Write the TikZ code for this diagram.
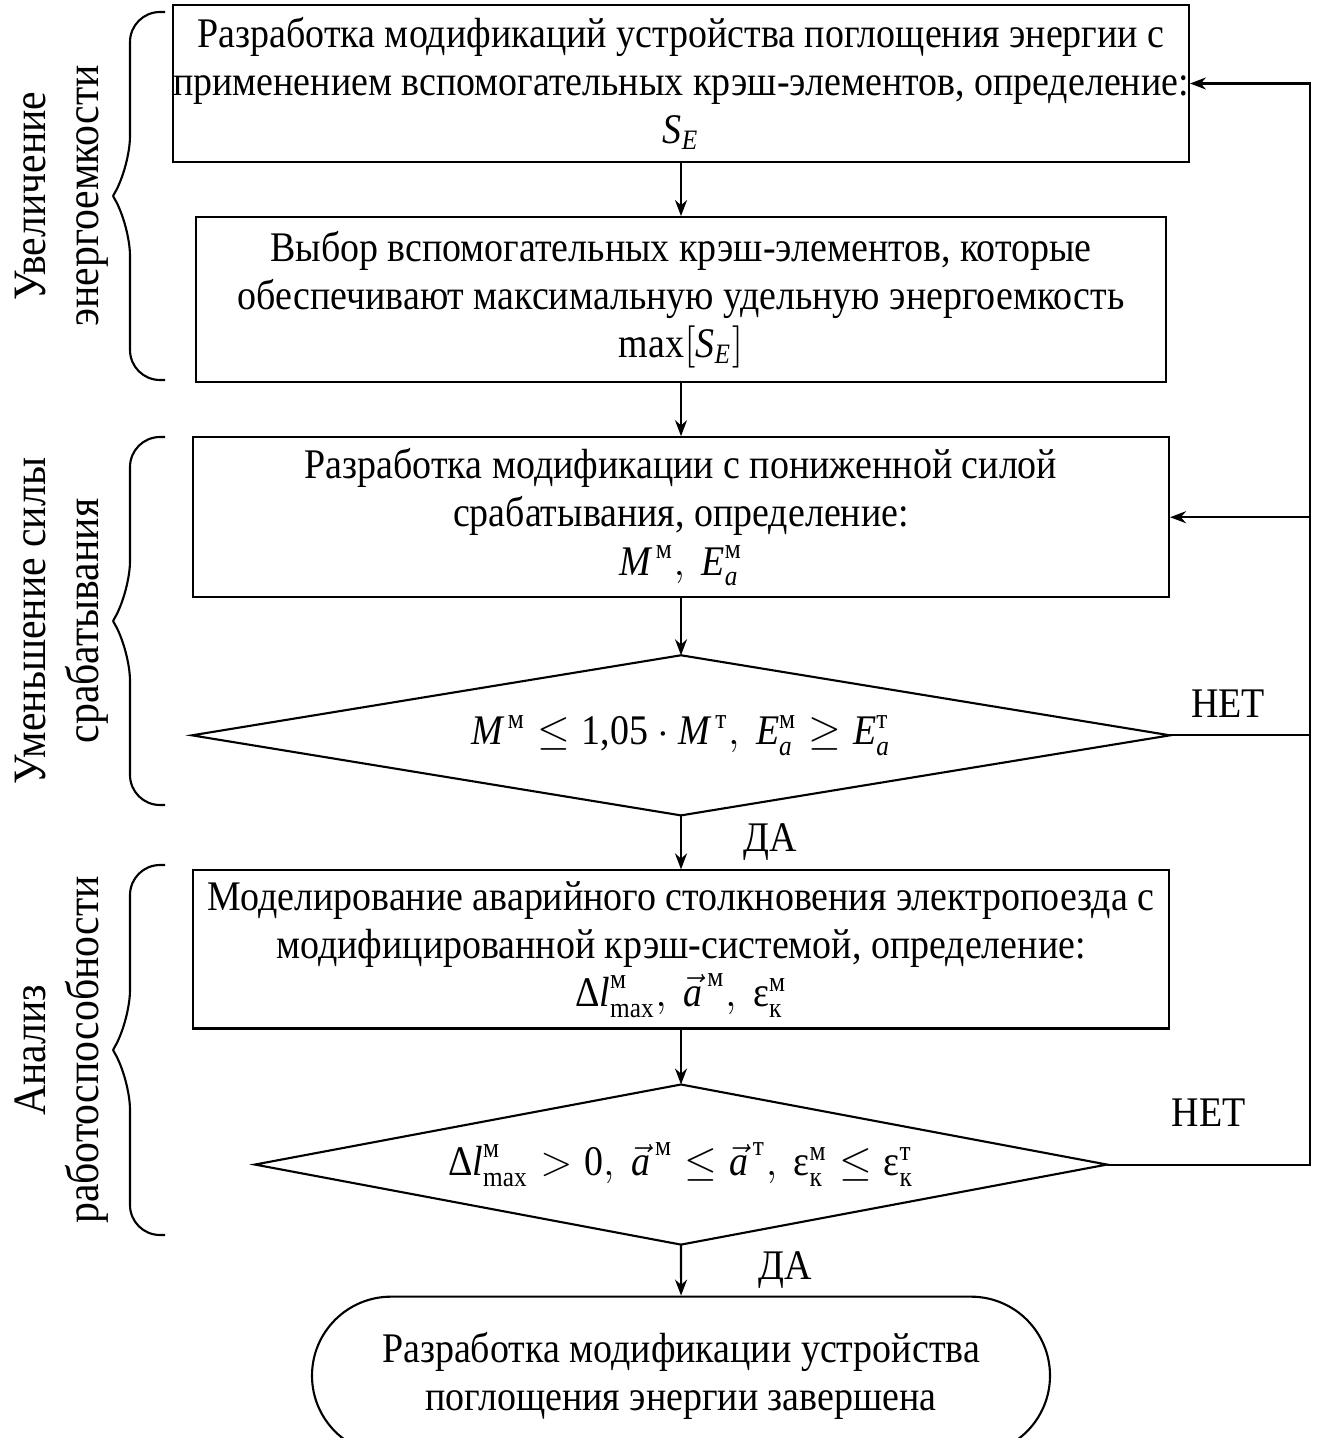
\documentclass[tikz,border=0pt]{standalone}
\usepackage{amsmath}
\usepackage{fontspec}
\setmainfont{Liberation Serif}[FakeStretch=0.9]
\usetikzlibrary{shapes.misc,arrows.meta,positioning}
\newcommand{\vi}[1]{\textit{#1}}

\begin{document}
\begin{tikzpicture}[
    line width=0.6pt,
    font=\fontsize{12}{13.7}\selectfont,
    box/.style={rectangle, draw, inner sep=0pt, align=center, minimum height=1.6cm},
    decision/.style={rectangle, inner sep=0pt, align=center, minimum height=1.58cm},
    finish/.style={rounded rectangle, draw, inner sep=0pt, align=center, minimum width=7.38cm, minimum height=1.58cm},
    arrow/.style={-{Stealth[length=1.6mm, width=1.2mm]}},
    side/.style={rotate=90, align=center, font=\fontsize{13.2}{15.1}\selectfont}
]
\useasboundingbox (0,0) rectangle (13.21,-14.38);
\node[box, minimum width=10.12cm, minimum height=1.57cm] (b1) at (6.81,-0.835) {Разработка модификаций устройства поглощения энергии с\\применением вспомогательных крэш-элементов, определение:\\$\vi{S}_{\vi{E}}$};
\node[box, minimum width=9.70cm, minimum height=1.65cm, below=0.53cm of b1] (b2) {Выбор вспомогательных крэш-элементов, которые\\обеспечивают максимальную удельную энергоемкость\\$\text{max}[\vi{S}_{\vi{E}}]$};
\node[box, minimum width=9.76cm, below=0.53cm of b2] (b3) {Разработка модификации с пониженной силой\\срабатывания, определение:\\$\vi{M}^{\,\text{м}},\ \vi{E}_{\vi{a}}^{\text{м}}$};
\node[decision, minimum width=9.76cm, below=0.57cm of b3] (d1) {$\vi{M}^{\,\text{м}} \le \text{1,05}\cdot\vi{M}^{\,\text{т}},\ \vi{E}_{\vi{a}}^{\text{м}} \ge \vi{E}_{\vi{a}}^{\text{т}}$};
\node[box, minimum width=9.76cm, minimum height=1.58cm, below=0.54cm of d1] (b4) {Моделирование аварийного столкновения электропоезда с\\модифицированной крэш-системой, определение:\\$\text{Δ}\vi{l}_{\text{max}}^{\text{м}},\ \vec{\vi{a}}^{\,\text{м}},\ \text{ε}_{\text{к}}^{\text{м}}$};
\node[decision, minimum width=8.50cm, below=0.55cm of b4] (d2) {$\text{Δ}\vi{l}_{\text{max}}^{\text{м}} > \text{0},\ \vec{\vi{a}}^{\,\text{м}} \le \vec{\vi{a}}^{\,\text{т}},\ \text{ε}_{\text{к}}^{\text{м}} \le \text{ε}_{\text{к}}^{\text{т}}$};
\node[finish, below=0.51cm of d2] (fin) {Разработка модификации устройства\\поглощения энергии завершена};
\coordinate (rail) at (13.10,0);

\foreach \d in {d1,d2}
  \draw (\d.west) -- (\d.north) -- (\d.east) -- (\d.south) -- cycle;

\draw[arrow] (b1) -- (b2);
\draw[arrow] (b2) -- (b3);
\draw[arrow] (b3) -- (d1);
\draw[arrow] (d1) -- node[right=0.5cm] {ДА} (b4);
\draw[arrow] (b4) -- (d2);
\draw[arrow] (d2) -- node[right=0.65cm] {ДА} (fin);
\draw[arrow] (d1.east) -- node[above=0.05cm, xshift=-0.12cm] {НЕТ} (d1.east -| rail) |- (b3.east);
\draw[arrow] (d2.east) -- node[above=0.25cm] {НЕТ} (d2.east -| rail) |- (b1.east);

\foreach \ya/\ym/\yb/\txt in {0.12/1.96/3.80/{Увеличение\\энергоемкости}, 4.37/6.21/8.05/{Уменьшение силы\\срабатывания}, 8.65/10.50/12.35/{Анализ\\работоспособности}} {
  \draw[rounded corners=0.3cm] (1.65,-\ya) -- (1.30,-\ya) -- (1.30,-\ym+0.3) -- (1.13,-\ym);
  \draw[rounded corners=0.3cm] (1.65,-\yb) -- (1.30,-\yb) -- (1.30,-\ym-0.3) -- (1.13,-\ym);
  \node[side] at (0.615,-\ym) {\txt};
}
\end{tikzpicture}
\end{document}
